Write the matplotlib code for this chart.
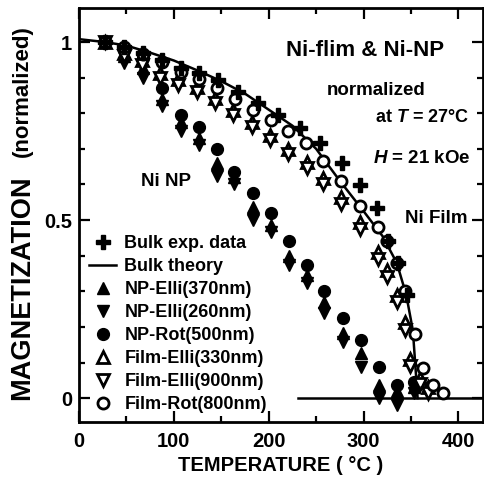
import matplotlib
matplotlib.use("Agg")
import matplotlib.pyplot as plt
from matplotlib.ticker import MultipleLocator

plt.rcParams['font.family'] = ['Liberation Sans', 'DejaVu Sans']
plt.rcParams['font.weight'] = 'bold'
plt.rcParams['mathtext.fontset'] = 'custom'
plt.rcParams['mathtext.bfit'] = 'Liberation Sans:italic:bold'

# ---- data ----
theory_T = [0, 27, 50, 75, 100, 125, 150, 175, 200, 225, 250, 275, 300, 320, 335, 345, 352, 357]
theory_M = [1.008, 1.0, 0.99, 0.97, 0.948, 0.92, 0.89, 0.855, 0.81, 0.765, 0.70, 0.61, 0.525, 0.455, 0.38, 0.29, 0.19, 0.0]
base_T = [231, 430]
base_M = [0.0, 0.0]

bulk_T = [27, 47, 67, 87, 108, 126, 147, 168, 189, 210, 233, 254, 277, 296, 314, 326, 336, 346]
bulk_M = [1.0, 0.985, 0.968, 0.95, 0.928, 0.912, 0.893, 0.86, 0.83, 0.795, 0.758, 0.716, 0.66, 0.598, 0.534, 0.44, 0.38, 0.29]

np_T = [27, 47, 67, 87, 107, 126, 145, 163, 183, 202, 221, 240, 258, 278, 297, 316, 335, 353]
np_rot500 = [1.0, 0.978, 0.955, 0.87, 0.795, 0.76, 0.70, 0.635, 0.576, 0.52, 0.44, 0.374, 0.30, 0.225, 0.163, 0.087, 0.037, 0.045]
np_elli370 = [1.0, 0.96, 0.927, 0.84, 0.775, 0.73, 0.66, 0.62, 0.536, 0.486, 0.40, 0.345, 0.27, 0.183, 0.126, 0.037, 0.02, 0.03]
np_elli260 = [1.0, 0.94, 0.90, 0.82, 0.75, 0.71, 0.625, 0.60, 0.50, 0.466, 0.375, 0.323, 0.24, 0.157, 0.087, 0.0, -0.02, 0.015]

film_rot_T = [27, 47, 67, 87, 107, 126, 145, 164, 183, 202, 220, 239, 257, 276, 296, 315, 325, 335, 344, 354, 363, 373, 384]
film_rot800 = [1.0, 0.985, 0.965, 0.945, 0.915, 0.895, 0.87, 0.84, 0.81, 0.78, 0.75, 0.716, 0.666, 0.61, 0.54, 0.48, 0.44, 0.38, 0.30, 0.18, 0.085, 0.037, 0.014]

film_elli_T = [27, 47, 66, 85, 104, 124, 143, 162, 182, 201, 220, 240, 257, 276, 296, 315, 325, 335, 344, 349, 360, 368]
film_elli330 = [1.0, 0.97, 0.95, 0.913, 0.895, 0.874, 0.843, 0.81, 0.775, 0.74, 0.70, 0.663, 0.618, 0.565, 0.495, 0.41, 0.36, 0.29, 0.214, 0.11, 0.056, 0.03]
film_elli900 = [1.0, 0.96, 0.935, 0.90, 0.88, 0.86, 0.83, 0.795, 0.76, 0.725, 0.685, 0.645, 0.60, 0.545, 0.475, 0.39, 0.34, 0.27, 0.19, 0.09, 0.04, 0.015]

x_ticks = [0, 100, 200, 300, 400]
y_ticks = [0, 0.5, 1]
y_ticklabels = ['0', '0.5', '1']

# ---- figure ----
fig = plt.figure(figsize=(4.85, 4.82), dpi=100)
ax = fig.add_axes([0.163, 0.1245, 0.833, 0.8585])

ms = 8.5
ax.plot(theory_T, theory_M, color='black', lw=1.8, zorder=2, label='Bulk theory')
ax.plot(base_T, base_M, color='black', lw=1.8, zorder=2)

ax.plot(np_T, np_elli370, ls='none', marker='^', ms=ms, color='black', zorder=3, label='NP-Elli(370nm)')
ax.plot(np_T, np_elli260, ls='none', marker='v', ms=ms, color='black', zorder=3, label='NP-Elli(260nm)')
ax.plot(np_T, np_rot500, ls='none', marker='o', ms=ms, color='black', zorder=3, label='NP-Rot(500nm)')
ax.plot(film_elli_T, film_elli330, ls='none', marker='^', ms=ms, mfc='white', mec='black', mew=2, zorder=4, label='Film-Elli(330nm)')
ax.plot(film_elli_T, film_elli900, ls='none', marker='v', ms=ms, mfc='white', mec='black', mew=2, zorder=4, label='Film-Elli(900nm)')
ax.plot(film_rot_T, film_rot800, ls='none', marker='o', ms=ms - 0.5, mfc='white', mec='black', mew=2, zorder=4, label='Film-Rot(800nm)')
ax.plot(bulk_T, bulk_M, ls='none', marker='P', ms=10, color='black', zorder=5, label='Bulk exp. data')

ax.set_xlim(0, 426)
ax.set_ylim(-0.067, 1.095)
ax.set_xticks(x_ticks)
ax.set_yticks(y_ticks)
ax.set_yticklabels(y_ticklabels)
ax.xaxis.set_minor_locator(MultipleLocator(50))
ax.yaxis.set_minor_locator(MultipleLocator(0.1))
ax.tick_params(which='both', direction='in', top=True, right=True, width=1.6)
ax.tick_params(which='major', length=8, labelsize=14.5, pad=5)
ax.tick_params(axis='x', which='major', pad=7)
ax.tick_params(which='minor', length=4)
for s in ax.spines.values():
    s.set_linewidth(2)

ax.set_xlabel('TEMPERATURE ( \u00b0C )', fontsize=14.5, fontweight='bold', labelpad=4)

# y-axis title in two parts (different sizes, as in the reference)
fig.text(0.046, 0.404, 'MAGNETIZATION', rotation=90, fontsize=19.5, fontweight='bold',
         ha='center', va='center')
fig.text(0.046, 0.811, '(normalized)', rotation=90, fontsize=16, fontweight='bold',
         ha='center', va='center')

ax.text(302, 0.977, 'Ni-flim & Ni-NP', fontsize=16, fontweight='bold', ha='center', va='center')
ax.text(313, 0.865, 'normalized', fontsize=13.5, fontweight='bold', ha='center', va='center')
ax.text(362, 0.787, 'at $\\mathbfit{T}$ = 27\u00b0C', fontsize=13, fontweight='bold', ha='center', va='center')
ax.text(362, 0.674, '$\\mathbfit{H}$ = 21 kOe', fontsize=13.5, fontweight='bold', ha='center', va='center')
ax.text(377, 0.505, 'Ni Film', fontsize=13.5, fontweight='bold', ha='center', va='center')
ax.text(92, 0.607, 'Ni NP', fontsize=13.5, fontweight='bold', ha='center', va='center')

order = ['Bulk exp. data', 'Bulk theory', 'NP-Elli(370nm)', 'NP-Elli(260nm)', 'NP-Rot(500nm)',
         'Film-Elli(330nm)', 'Film-Elli(900nm)', 'Film-Rot(800nm)']
h, l = ax.get_legend_handles_labels()
hd = dict(zip(l, h))
leg = ax.legend([hd[k] for k in order], order, loc='lower left', bbox_to_anchor=(0.025, 0.022),
                frameon=False, fontsize=13, handlelength=1.5, handletextpad=0.45,
                labelspacing=0.33, borderpad=0, borderaxespad=0)
for t in leg.get_texts():
    t.set_fontweight('bold')

fig.savefig('out.png', dpi=100)
